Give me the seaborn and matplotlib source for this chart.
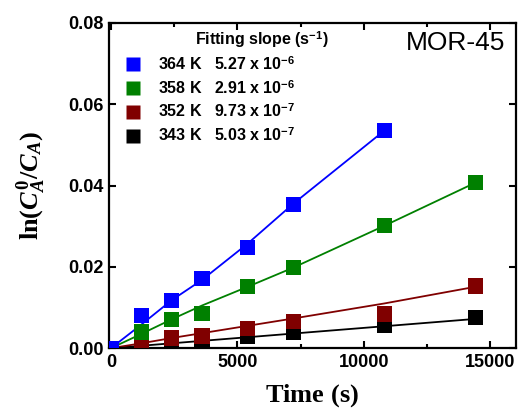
import numpy as np
import pandas as pd
import matplotlib
matplotlib.use("Agg")
import matplotlib.pyplot as plt
from matplotlib.lines import Line2D
from matplotlib.ticker import MultipleLocator
import seaborn as sns

# ---------------- data ----------------
times = [0, 1200, 2400, 3600, 5400, 7200, 10800, 14400]
series = ["343 K", "352 K", "358 K", "364 K"]
colors = {"343 K": "#000000", "352 K": "#800000", "358 K": "#008000", "364 K": "#0000FF"}
slopes = {"364 K": r"5.27 x 10$^{\mathbf{-6}}$", "358 K": r"2.91 x 10$^{\mathbf{-6}}$",
          "352 K": r"9.73 x 10$^{\mathbf{-7}}$", "343 K": r"5.03 x 10$^{\mathbf{-7}}$"}

val_364 = [0.0, 0.0081, 0.0118, 0.0172, 0.0248, 0.0354, 0.0535]
val_358 = [0.0, 0.0040, 0.0071, 0.0085, 0.0151, 0.0198, 0.0301, 0.0407]
val_352 = [0.0, 0.0014, 0.0025, 0.0030, 0.0049, 0.0065, 0.0084, 0.0153]
val_343 = [0.0, 0.0008, 0.0010, 0.0015, 0.0028, 0.0038, 0.0055, 0.0076]

fit_364 = [0.0, 0.0058, 0.0118, 0.0168, 0.0257, 0.0355, 0.0535]
fit_358 = [0.0, 0.0035, 0.0071, 0.0105, 0.0151, 0.0198, 0.0301, 0.0407]
fit_352 = [0.0, 0.0012, 0.0025, 0.0037, 0.0055, 0.0073, 0.0110, 0.0151]
fit_343 = [0.0, 0.0006, 0.0012, 0.0018, 0.0027, 0.0036, 0.0054, 0.0072]

vals = {"364 K": val_364, "358 K": val_358, "352 K": val_352, "343 K": val_343}
fits = {"364 K": fit_364, "358 K": fit_358, "352 K": fit_352, "343 K": fit_343}

rows = []
for s in series:
    for t, v, f in zip(times, vals[s], fits[s]):
        rows.append({"t": t, "v": v, "fit": f, "series": s})
df = pd.DataFrame(rows)

# ---------------- style ----------------
sns.set_style("ticks")
plt.rcParams["font.family"] = ["Liberation Sans", "DejaVu Sans"]
plt.rcParams["mathtext.fontset"] = "custom"
plt.rcParams["mathtext.rm"] = "Liberation Serif:bold"
plt.rcParams["mathtext.it"] = "Liberation Serif:bold:italic"
plt.rcParams["mathtext.bf"] = "Liberation Sans:bold"
for k in ["text.color", "axes.labelcolor", "xtick.color", "ytick.color", "axes.edgecolor"]:
    plt.rcParams[k] = "black"

fig = plt.figure(figsize=(5.21, 4.18), dpi=100)
ax = fig.add_axes([0.209, 0.167, 0.781, 0.778])

for s in series:
    sub = df[df["series"] == s]
    sns.lineplot(data=sub, x="t", y="fit", color=colors[s], lw=1.3, ax=ax,
                 zorder=2, legend=False)
for s in series:
    sub = df[df["series"] == s]
    sns.scatterplot(data=sub, x="t", y="v", color=colors[s], marker="s", s=120,
                    edgecolor="none", linewidth=0, ax=ax, zorder=3, legend=False)

ax.set_xlim(-80, 16000)
ax.set_ylim(0, 0.08)
ax.xaxis.set_major_locator(MultipleLocator(5000))
ax.xaxis.set_minor_locator(MultipleLocator(2500))
ax.yaxis.set_major_locator(MultipleLocator(0.02))
ax.yaxis.set_major_formatter(matplotlib.ticker.FormatStrFormatter("%.2f"))
ax.tick_params(which="both", direction="in", top=True, right=True, width=1.5)
ax.tick_params(which="major", length=5, labelsize=13, pad=4)
ax.tick_params(which="minor", length=3)
for lab in ax.get_xticklabels() + ax.get_yticklabels():
    lab.set_fontweight("bold")
for sp in ax.spines.values():
    sp.set_linewidth(1.6)

ax.set_xlabel(r"$\mathrm{Time\ (s)}$", fontsize=19, labelpad=8)
ax.set_ylabel(r"$\mathrm{ln(}C^{\mathit{0}}_{A}/C_{A}\mathrm{)}$", fontsize=19, labelpad=14)

ax.text(0.975, 0.975, "MOR-45", transform=ax.transAxes, ha="right", va="top",
        fontsize=19)

ax.text(0.376, 0.948, r"Fitting slope (s$^{\mathbf{-1}}$)", transform=ax.transAxes,
        ha="center", va="center", fontsize=11.5, fontweight="bold")

handles = [Line2D([], [], ls="none", marker="s", ms=9.5, color=colors[s], mec="none")
           for s in ["364 K", "358 K", "352 K", "343 K"]]
labels = [f"{s}   {slopes[s]}" for s in ["364 K", "358 K", "352 K", "343 K"]]
leg = ax.legend(handles, labels, loc="upper left", bbox_to_anchor=(0.0, 0.946),
                frameon=False, prop={"weight": "bold", "size": 11.5},
                handletextpad=1.0, labelspacing=0.36, borderaxespad=0.5,
                handlelength=1.2)

fig.savefig("out.png", dpi=100)
